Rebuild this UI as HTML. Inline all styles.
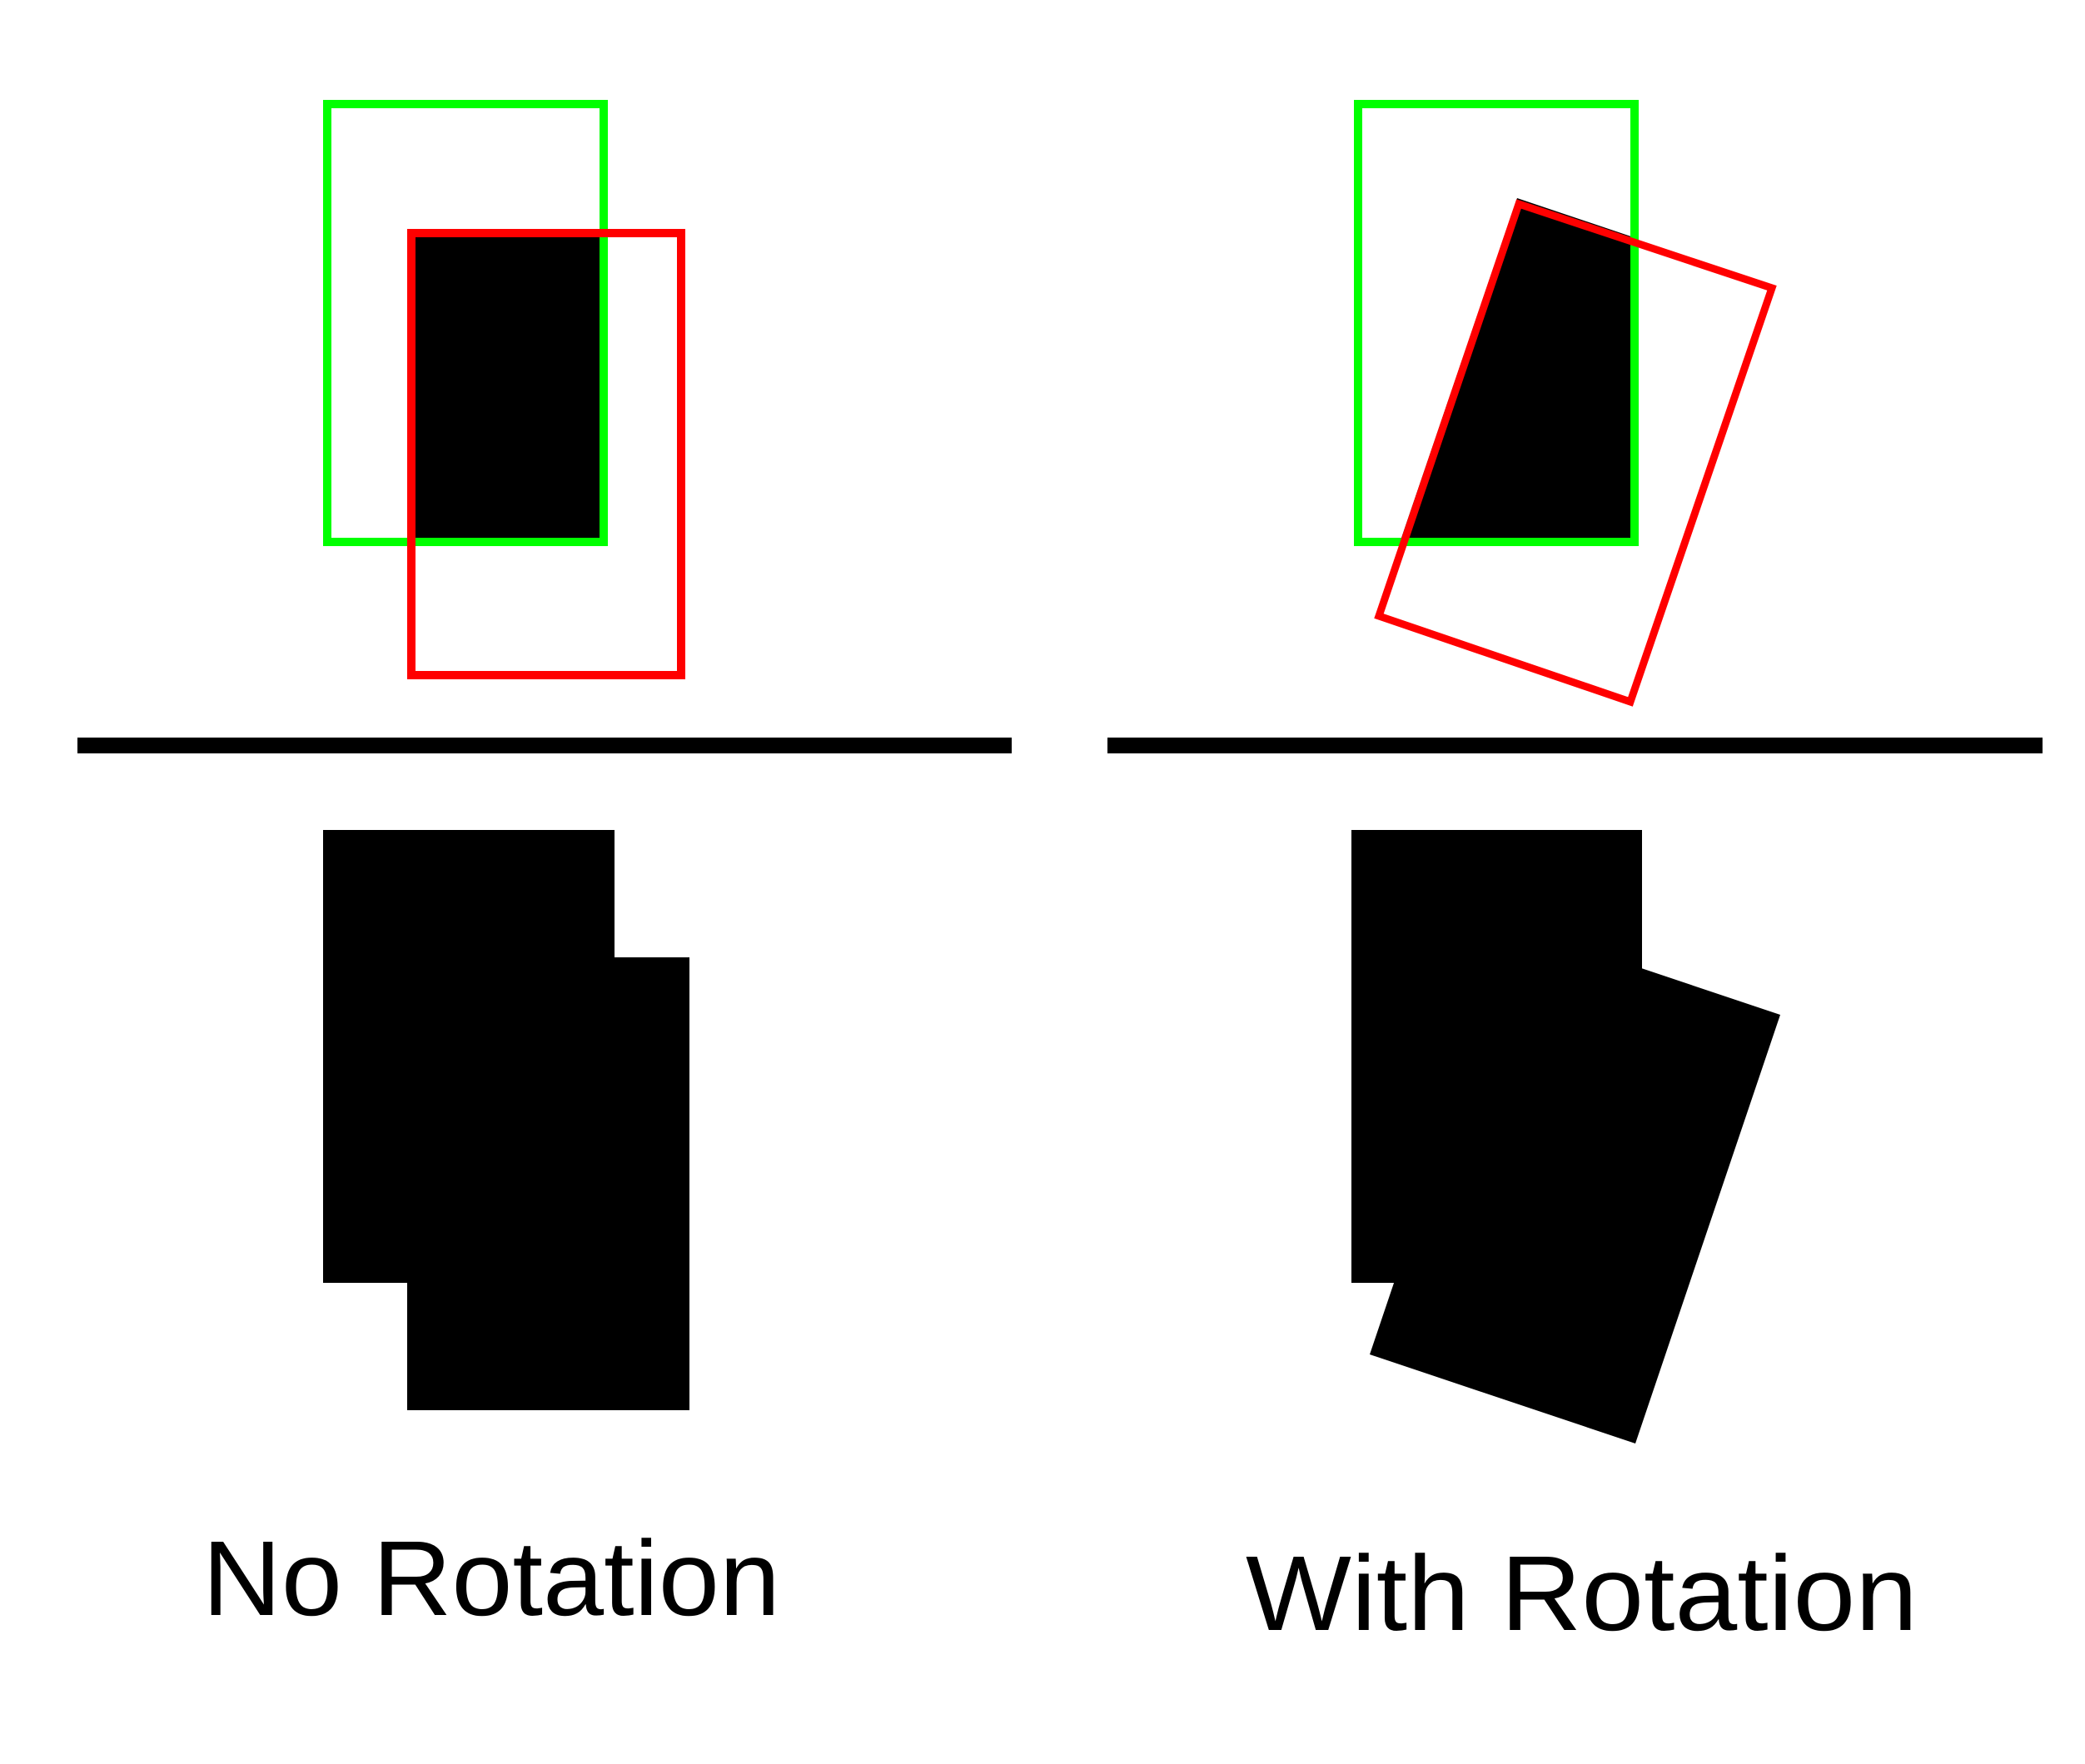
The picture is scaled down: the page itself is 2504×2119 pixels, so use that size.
<!DOCTYPE html>
<html><head><meta charset="utf-8"><style>html,body{margin:0;padding:0;background:#fff;}svg{display:block}</style></head>
<body>
<svg width="2504" height="2119" viewBox="0 0 2504 2119" xmlns="http://www.w3.org/2000/svg">
<defs>
<clipPath id="gclip"><rect x="1626" y="120" width="342" height="536"/></clipPath>
</defs>
<g>
<rect x="494" y="280" width="230" height="371" fill="#000"/>
<rect x="393" y="125" width="332" height="526" fill="none" stroke="#00ff00" stroke-width="10"/>
<rect x="494" y="280" width="324" height="531" fill="none" stroke="#ff0000" stroke-width="10"/>
</g>
<rect x="93" y="886" width="1122" height="19" fill="#000"/>
<g>
<polygon clip-path="url(#gclip)" points="1822,238 2134,343 1961,850 1650,743" fill="#000"/>
<rect x="1631" y="125" width="332" height="526" fill="none" stroke="#00ff00" stroke-width="10"/>
<polygon points="1824,245 2128,346 1958,843 1656,740" fill="none" stroke="#ff0000" stroke-width="9"/>
</g>
<rect x="1330" y="886" width="1123" height="19" fill="#000"/>
<g>
<rect x="388" y="997" width="350" height="544" fill="#000"/>
<rect x="489" y="1150" width="339" height="544" fill="#000"/>
</g>
<g>
<rect x="1623" y="997" width="349" height="544" fill="#000"/>
<polygon points="1819,1112 2138,1219 1964,1734 1645,1627" fill="#000"/>
</g>
<text x="243" y="1940" font-family="'Liberation Sans', sans-serif" font-size="128" textLength="694" lengthAdjust="spacingAndGlyphs" fill="#000">No Rotation</text>
<text x="1496" y="1958" font-family="'Liberation Sans', sans-serif" font-size="128" textLength="807" lengthAdjust="spacingAndGlyphs" fill="#000">With Rotation</text>
</svg>
</body></html>
